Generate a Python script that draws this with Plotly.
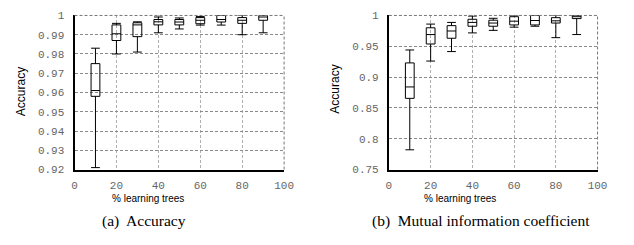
import plotly.graph_objects as go

W, H = 634, 245

x_pos = [10, 20, 30, 40, 50, 60, 70, 80, 90]

# (a) Accuracy
acc_low = [0.921, 0.980, 0.981, 0.991, 0.993, 0.995, 0.995, 0.990, 0.991]
acc_q1 = [0.958, 0.987, 0.989, 0.9951, 0.9951, 0.9957, 0.9966, 0.9959, 0.9975]
acc_med = [0.961, 0.9905, 0.9951, 0.9967, 0.9966, 0.9975, 0.9979, 0.9975, 0.9992]
acc_q3 = [0.975, 0.9951, 0.9962, 0.9979, 0.9979, 0.9989, 1.0, 0.9989, 1.0]
acc_high = [0.983, 0.9959, 0.9967, 0.9992, 0.9987, 0.9995, 1.0, 1.0, 1.0]

# (b) Mutual information coefficient
mic_low = [0.782, 0.926, 0.9414, 0.9717, 0.9758, 0.981, 0.9825, 0.964, 0.969]
mic_q1 = [0.8655, 0.9537, 0.963, 0.9825, 0.9825, 0.9846, 0.9846, 0.9877, 0.9949]
mic_med = [0.884, 0.969, 0.9748, 0.9887, 0.9877, 0.9907, 0.9918, 0.9913, 0.998]
mic_q3 = [0.923, 0.980, 0.9835, 0.9938, 0.9923, 0.998, 1.0, 0.9964, 1.0]
mic_high = [0.944, 0.986, 0.9887, 0.999, 0.9954, 1.0, 1.0, 1.0, 1.0]

acc_ticks = [0.92, 0.93, 0.94, 0.95, 0.96, 0.97, 0.98, 0.99, 1.0]
mic_ticks = [0.75, 0.8, 0.85, 0.9, 0.95, 1.0]
x_ticks = [0, 20, 40, 60, 80, 100]

y_title = "Accuracy"
x_title = "% learning trees"
captions = ["(a)  Accuracy", "(b)  Mutual information coefficient"]

fig = go.Figure()

box_style = dict(
    width=4.2,
    whiskerwidth=1,
    fillcolor="rgba(255,255,255,0)",
    line=dict(color="black", width=1),
    boxpoints=False,
    showlegend=False,
    hoverinfo="skip",
)

fig.add_trace(go.Box(x=x_pos, q1=acc_q1, median=acc_med, q3=acc_q3,
                     lowerfence=acc_low, upperfence=acc_high,
                     xaxis="x", yaxis="y", **box_style))
fig.add_trace(go.Box(x=x_pos, q1=mic_q1, median=mic_med, q3=mic_q3,
                     lowerfence=mic_low, upperfence=mic_high,
                     xaxis="x2", yaxis="y2", **box_style))

y_dom = [1 - 173 / H, 1 - 11 / H]
tickfont = dict(family="Liberation Mono", size=11, color="#666666")
common = dict(showgrid=True, gridwidth=1, griddash="3px,2px",
              zeroline=False, showline=True, linecolor="black", linewidth=2,
              ticks="", tickfont=tickfont)

xax = dict(range=[0, 100], tickvals=x_ticks, gridcolor="#b0b0b0", **common)
fig.update_layout(
    width=W, height=H,
    margin=dict(l=0, r=0, t=0, b=0),
    paper_bgcolor="white", plot_bgcolor="white",
    boxmode="overlay",
    xaxis=dict(domain=[73 / W, 287 / W], anchor="y", ticklabelstandoff=4, **xax),
    yaxis=dict(domain=y_dom, anchor="x", range=[0.92, 1.0], tickvals=acc_ticks,
               ticklabelstandoff=6, gridcolor="#8a8a8a", **common),
    xaxis2=dict(domain=[394 / W, 607 / W], anchor="y2", ticklabelstandoff=4, **xax),
    yaxis2=dict(domain=y_dom, anchor="x2", range=[0.75, 1.0], tickvals=mic_ticks,
                ticklabelstandoff=6, gridcolor="#8a8a8a", **common),
)

# dashed top and right frame edges
shapes = []
for xr, yr in [("x domain", "y domain"), ("x2 domain", "y2 domain")]:
    shapes.append(dict(type="line", xref=xr, yref=yr, x0=0, x1=1, y0=1, y1=1,
                       line=dict(color="#777777", width=1, dash="3px,2px")))
    shapes.append(dict(type="line", xref=xr, yref=yr, x0=1, x1=1, y0=0, y1=1,
                       line=dict(color="#777777", width=1, dash="3px,2px")))
fig.update_layout(shapes=shapes)

ann = []
for xc, yc in [(18, 91), (339, 89)]:
    ann.append(dict(text=y_title, x=xc / W, y=1 - yc / H, xref="paper", yref="paper",
                    xanchor="center", yanchor="middle",
                    showarrow=False, textangle=-90,
                    font=dict(family="Liberation Sans", size=12, color="black")))
for xc in [148, 467]:
    ann.append(dict(text=x_title, x=xc / W, y=1 - 203 / H, xref="paper", yref="paper",
                    xanchor="center", yanchor="middle",
                    showarrow=False,
                    font=dict(family="Liberation Sans", size=10, color="black")))
for xc, cap in zip([144, 488], captions):
    ann.append(dict(text=cap, x=xc / W, y=1 - 227 / H, xref="paper", yref="paper",
                    xanchor="center", yanchor="middle",
                    showarrow=False,
                    font=dict(family="Liberation Serif", size=15.5, color="black")))
fig.update_layout(annotations=ann)

fig.write_html("out.html", config={"displayModeBar": False},
               post_script="document.body.style.margin='0';")
